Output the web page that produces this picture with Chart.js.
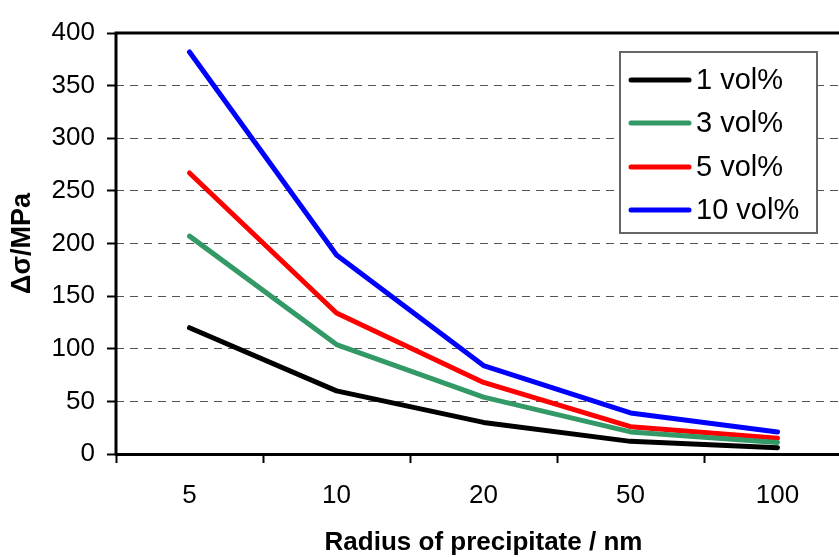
<!DOCTYPE html>
<html>
<head>
<meta charset="utf-8">
<script src="https://cdn.jsdelivr.net/npm/chart.js@4/dist/chart.umd.min.js"></script>
<style>
  html, body { margin: 0; padding: 0; background: #fff; overflow: hidden; }
  #wrap { width: 839px; height: 558px; overflow: hidden; }
</style>
</head>
<body>
<div id="wrap"><canvas id="c" width="860" height="558"></canvas></div>
<script>
/* ========= DATA ========= */
const radii = ["5", "10", "20", "50", "100"];
const vol1 = [120, 60, 30, 12, 6];
const vol3 = [207, 104, 54, 21, 11];
const vol5 = [267, 134, 68, 26, 15];
const vol10 = [382, 189, 84, 39, 21];
const seriesNames = ["1 vol%", "3 vol%", "5 vol%", "10 vol%"];
const yTicks = [0, 50, 100, 150, 200, 250, 300, 350, 400];

const colors = ["#000000", "#339966", "#ff0000", "#0000ff"];
const font = "Arial, 'Liberation Sans', sans-serif";

/* ========= PLUGIN: frame + legend ========= */
const frame = {
  id: "frame",
  afterDraw(chart) {
    const { ctx, chartArea: a } = chart;
    ctx.save();
    ctx.strokeStyle = "#000";
    ctx.lineWidth = 3;
    ctx.beginPath();
    ctx.moveTo(a.left, a.bottom + 1);
    ctx.lineTo(a.left, a.top);
    ctx.lineTo(a.right, a.top);
    ctx.stroke();

    // legend
    ctx.fillStyle = "#fff";
    ctx.fillRect(620, 52, 197, 181);
    ctx.strokeStyle = "#666";
    ctx.lineWidth = 2;
    ctx.strokeRect(620, 52, 197, 181);
    const rows = [80, 123, 167, 210];
    chart.data.datasets.forEach((ds, i) => {
      ctx.strokeStyle = ds.borderColor;
      ctx.lineWidth = 5;
      ctx.lineCap = "round";
      ctx.beginPath();
      ctx.moveTo(631, rows[i]);
      ctx.lineTo(689, rows[i]);
      ctx.stroke();
      ctx.fillStyle = "#000";
      ctx.font = "29px " + font;
      ctx.textBaseline = "middle";
      ctx.fillText(ds.label, 696, rows[i] + 1);
    });
    ctx.restore();
  }
};

/* ========= CHART ========= */
const seriesData = [vol1, vol3, vol5, vol10];
new Chart(document.getElementById("c"), {
  type: "line",
  data: {
    labels: radii,
    datasets: seriesData.map((d, i) => ({
      label: seriesNames[i],
      data: d,
      borderColor: colors[i],
      borderWidth: 5,
      borderCapStyle: "round",
      borderJoinStyle: "round",
      tension: 0,
      pointRadius: 0,
      fill: false
    }))
  },
  options: {
    responsive: false,
    animation: false,
    layout: { padding: { left: 0, top: 33, right: 9, bottom: 0 } },
    plugins: { legend: { display: false }, tooltip: { enabled: false } },
    scales: {
      x: {
        offset: true,
        afterFit: s => { s.height = 104; },
        grid: {
          offset: true, drawOnChartArea: false, drawTicks: true,
          tickLength: 9, tickColor: "#000", tickWidth: 2
        },
        border: { display: true, color: "#000", width: 3 },
        ticks: { color: "#000", font: { family: font, size: 26 }, padding: 17, maxRotation: 0 },
        title: {
          display: true, text: "Radius of precipitate / nm", color: "#000",
          font: { family: font, size: 26, weight: "bold" }, padding: 0
        }
      },
      y: {
        min: 0, max: 400,
        afterFit: s => { s.width = 116; },
        afterBuildTicks: s => { s.ticks = yTicks.map(v => ({ value: v })); },
        grid: {
          color: c => (c.tick && (c.tick.value === 0 || c.tick.value === 400)) ? "transparent" : "#555",
          lineWidth: 1,
          tickLength: 9, tickColor: "#000", tickWidth: 2, tickBorderDash: []
        },
        border: { display: false, dash: [8, 6] },
        ticks: { color: "#000", font: { family: font, size: 26 }, padding: 12 },
        title: {
          display: true, text: "Δσ/MPa", color: "#000",
          font: { family: font, size: 27, weight: "bold" }, padding: 6
        }
      }
    }
  },
  plugins: [frame]
});
</script>
</body>
</html>
